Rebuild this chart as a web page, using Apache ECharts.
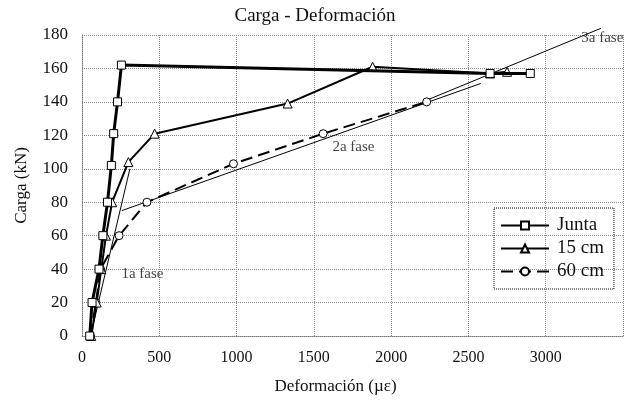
<!DOCTYPE html>
<html>
<head>
<meta charset="utf-8">
<script src="https://cdn.jsdelivr.net/npm/echarts@6/dist/echarts.min.js"></script>
<style>
  html, body { margin: 0; padding: 0; background: #fff; }
  #chart { width: 630px; height: 405px; }
</style>
</head>
<body>
<div id="chart"></div>
<script>
// Load vs. strain readings, [strain (µε), load (kN)]
const junta = [[50,0],[65,20],[110,40],[135,60],[165,80],[190,102],[205,121],[230,140],[255,162],[2640,157],[2900,157]];
const cm15  = [[60,0],[95,20],[125,40],[155,60],[195,80],[300,104],[470,121],[1330,139],[1880,161],[2640,157],[2750,158]];
const cm60  = [[55,0],[90,20],[120,40],[240,60],[420,80],[980,103],[1560,121],[2230,140]];

// Phase trend lines (no markers, not in legend)
const phase1 = [[55,0],[310,100]];
const phase2 = [[258,75],[2580,151]];
const phase3 = [[2230,141],[3357,184]];

// Phase labels: [x, y, text]
const phaseLabels = [[255,37,'1a fase'],[1620,113,'2a fase'],[3230,178,'3a fase']];

const seriesNames = ['Junta','15 cm','60 cm'];
const xTicks = [0,500,1000,1500,2000,2500,3000];
const yTicks = [0,20,40,60,80,100,120,140,160,180];

const FONT = '"Liberation Serif", "DejaVu Serif", serif';
const chart = echarts.init(document.getElementById('chart'), null, { renderer: 'canvas' });

const markerStyle = { color: '#fff', borderColor: '#000', borderWidth: 1 };

chart.setOption({
  animation: false,
  backgroundColor: '#fff',
  title: {
    text: 'Carga - Deformación',
    left: 'center',
    top: 2,
    textStyle: { fontFamily: FONT, fontSize: 19, fontWeight: 'normal', color: '#111' }
  },
  legend: {
    data: seriesNames,
    orient: 'vertical',
    left: 494,
    top: 208,
    padding: [8, 10, 8, 6],
    itemGap: 4,
    itemWidth: 48,
    itemHeight: 10,
    borderColor: '#000',
    borderWidth: 1,
    borderType: 'dotted',
    textStyle: { fontFamily: FONT, fontSize: 19, color: '#111', padding: [0, 0, 0, 3] }
  },
  grid: { left: 82, right: 7, top: 35, bottom: 69 },
  xAxis: {
    type: 'value',
    min: 0, max: 3500, interval: 500,
    name: 'Deformación (µε)',
    nameLocation: 'middle',
    nameGap: 42,
    nameTextStyle: { fontFamily: FONT, fontSize: 17, color: '#111', padding: [0, 34, 0, 0] },
    axisLine: { show: true, lineStyle: { color: '#777', type: 'dotted' } },
    axisTick: { show: false },
    axisLabel: {
      fontFamily: FONT, fontSize: 16, color: '#111', margin: 14,
      formatter: v => (xTicks.indexOf(v) >= 0 ? String(v) : '')
    },
    splitLine: { show: true, lineStyle: { color: '#888', type: 'dotted' } }
  },
  yAxis: {
    type: 'value',
    min: 0, max: 180, interval: 20,
    name: 'Carga (kN)',
    nameLocation: 'middle',
    nameGap: 52,
    nameTextStyle: { fontFamily: FONT, fontSize: 17, color: '#111' },
    axisLine: { show: true, lineStyle: { color: '#777', type: 'dotted' } },
    axisTick: { show: false },
    axisLabel: {
      fontFamily: FONT, fontSize: 17, color: '#111', margin: 14,
      formatter: v => (yTicks.indexOf(v) >= 0 ? String(v) : '')
    },
    splitLine: { show: true, lineStyle: { color: '#888', type: 'dotted' } }
  },
  series: [
    {
      name: 'Junta', type: 'line', data: junta,
      symbol: 'rect', symbolSize: 8, showAllSymbol: true,
      lineStyle: { color: '#000', width: 3 },
      itemStyle: markerStyle, z: 5
    },
    {
      name: '15 cm', type: 'line', data: cm15,
      symbol: 'triangle', symbolSize: 9, showAllSymbol: true,
      lineStyle: { color: '#000', width: 2 },
      itemStyle: markerStyle, z: 4
    },
    {
      name: '60 cm', type: 'line', data: cm60,
      symbol: 'circle', symbolSize: 8, showAllSymbol: true,
      lineStyle: { color: '#000', width: 2, type: [12, 6] },
      itemStyle: markerStyle, z: 3
    },
    {
      name: 'fase1', type: 'line', data: phase1, symbol: 'none', clip: false,
      lineStyle: { color: '#000', width: 1 }, z: 2
    },
    {
      name: 'fase2', type: 'line', data: phase2, symbol: 'none', clip: false,
      lineStyle: { color: '#000', width: 1 }, z: 2
    },
    {
      name: 'fase3', type: 'line', data: phase3, symbol: 'none', clip: false,
      lineStyle: { color: '#000', width: 1 }, z: 2
    },
    {
      name: 'etiquetas', type: 'scatter', symbolSize: 0, silent: true,
      data: phaseLabels.map(p => ({ value: [p[0], p[1]], label: { formatter: p[2] } })),
      label: {
        show: true, position: 'right', distance: 0,
        fontFamily: FONT, fontSize: 15, color: '#111'
      }
    }
  ]
});
</script>
</body>
</html>
